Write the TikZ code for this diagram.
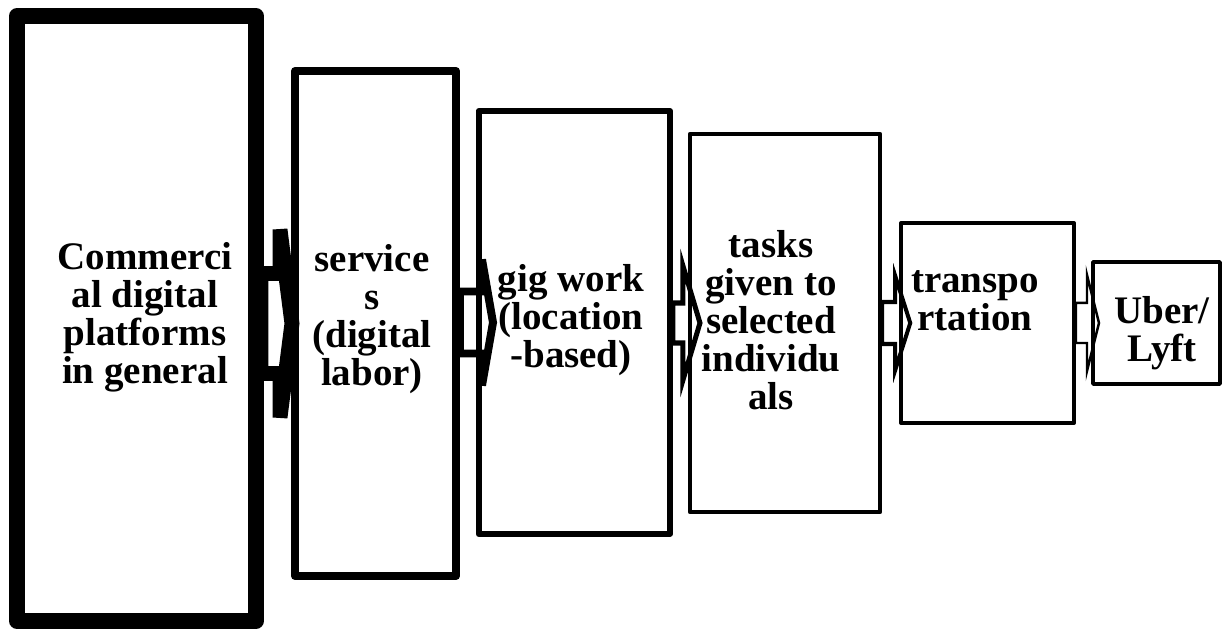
\documentclass[tikz,border=0pt]{standalone}
\usepackage{fontspec}
\setmainfont{Liberation Serif}
\usetikzlibrary{calc}

\begin{document}
\begin{tikzpicture}[x=0.02cm, y=-0.02cm,
  box/.style={rectangle, draw, line join=round, inner sep=0pt},
  lbl/.style={font=\bfseries\fontsize{22.2}{21.6}\selectfont, align=center, inner sep=0pt},
  flow/.style={draw, line join=miter},
]
\fill[white] (0,0) rectangle (1230,634);
\useasboundingbox (0,0) rectangle (1230,634);

% Boxes, each one smaller than the one before
\node[box, line width=9.1pt, minimum width=4.78cm, minimum height=12.1cm] (comm) at (136.5,318.5) {};
\node[box, line width=4.55pt, minimum width=3.22cm, minimum height=10.1cm] (serv) at (375.5,323.5) {};
\node[box, line width=3.4pt, minimum width=3.83cm, minimum height=8.46cm] (gig) at (574.25,322.5) {};
\node[box, line width=2.56pt, minimum width=3.8cm, minimum height=7.56cm] (tasks) at (785,323) {};
\node[box, line width=2.28pt, minimum width=3.46cm, minimum height=4cm] (trans) at (987.5,323) {};
\node[box, line width=2pt, minimum width=2.54cm, minimum height=2.44cm] (uber) at (1156.5,323) {};

% Block arrows between the boxes
\draw[flow, line width=8.5pt, shift={(comm.east |- serv.west)}] (-3,-50) -- (16,-50) -- (16,-94) -- (28,0) -- (16,94) -- (16,50) -- (-3,50) -- cycle;
\draw[flow, line width=4.55pt, shift={(serv.east |- gig.west)}] (0,-31) -- (22,-31) -- (22,-63) -- (33,0) -- (22,63) -- (22,31) -- (0,31) -- cycle;
\draw[flow, line width=2.85pt, shift={(gig.east |- tasks.west)}] (0,-20) -- (10,-20) -- (10,-57) -- (27,0) -- (10,57) -- (10,20) -- (0,20) -- cycle;
\draw[flow, line width=2.28pt, shift={(tasks.east |- trans.west)}] (0,-21) -- (13,-21) -- (13,-47) -- (28,0) -- (13,47) -- (13,21) -- (0,21) -- cycle;
\draw[flow, line width=1.42pt, shift={(trans.east |- uber.west)}] (0,-20) -- (11,-20) -- (11,-48) -- (23,0) -- (11,48) -- (11,20) -- (0,20) -- cycle;

% Texts
\node[lbl] (commtxt) at (145,317) {Commerci\\al digital\\platforms\\in general};
\node[lbl] (servtxt) at (372,319) {service\\s\\(digital\\labor)};
\node[lbl] (gigtxt) at (571,320) {gig work\\(location\\-based)};
\node[lbl] (taskstxt) at (771,320) {tasks\\given to\\selected\\individu\\als};
\node[lbl] (transtxt) at (975,301) {transpo\\rtation};
\node[lbl] (ubertxt) at (1162,333) {Uber/\\Lyft};
\end{tikzpicture}
\end{document}
